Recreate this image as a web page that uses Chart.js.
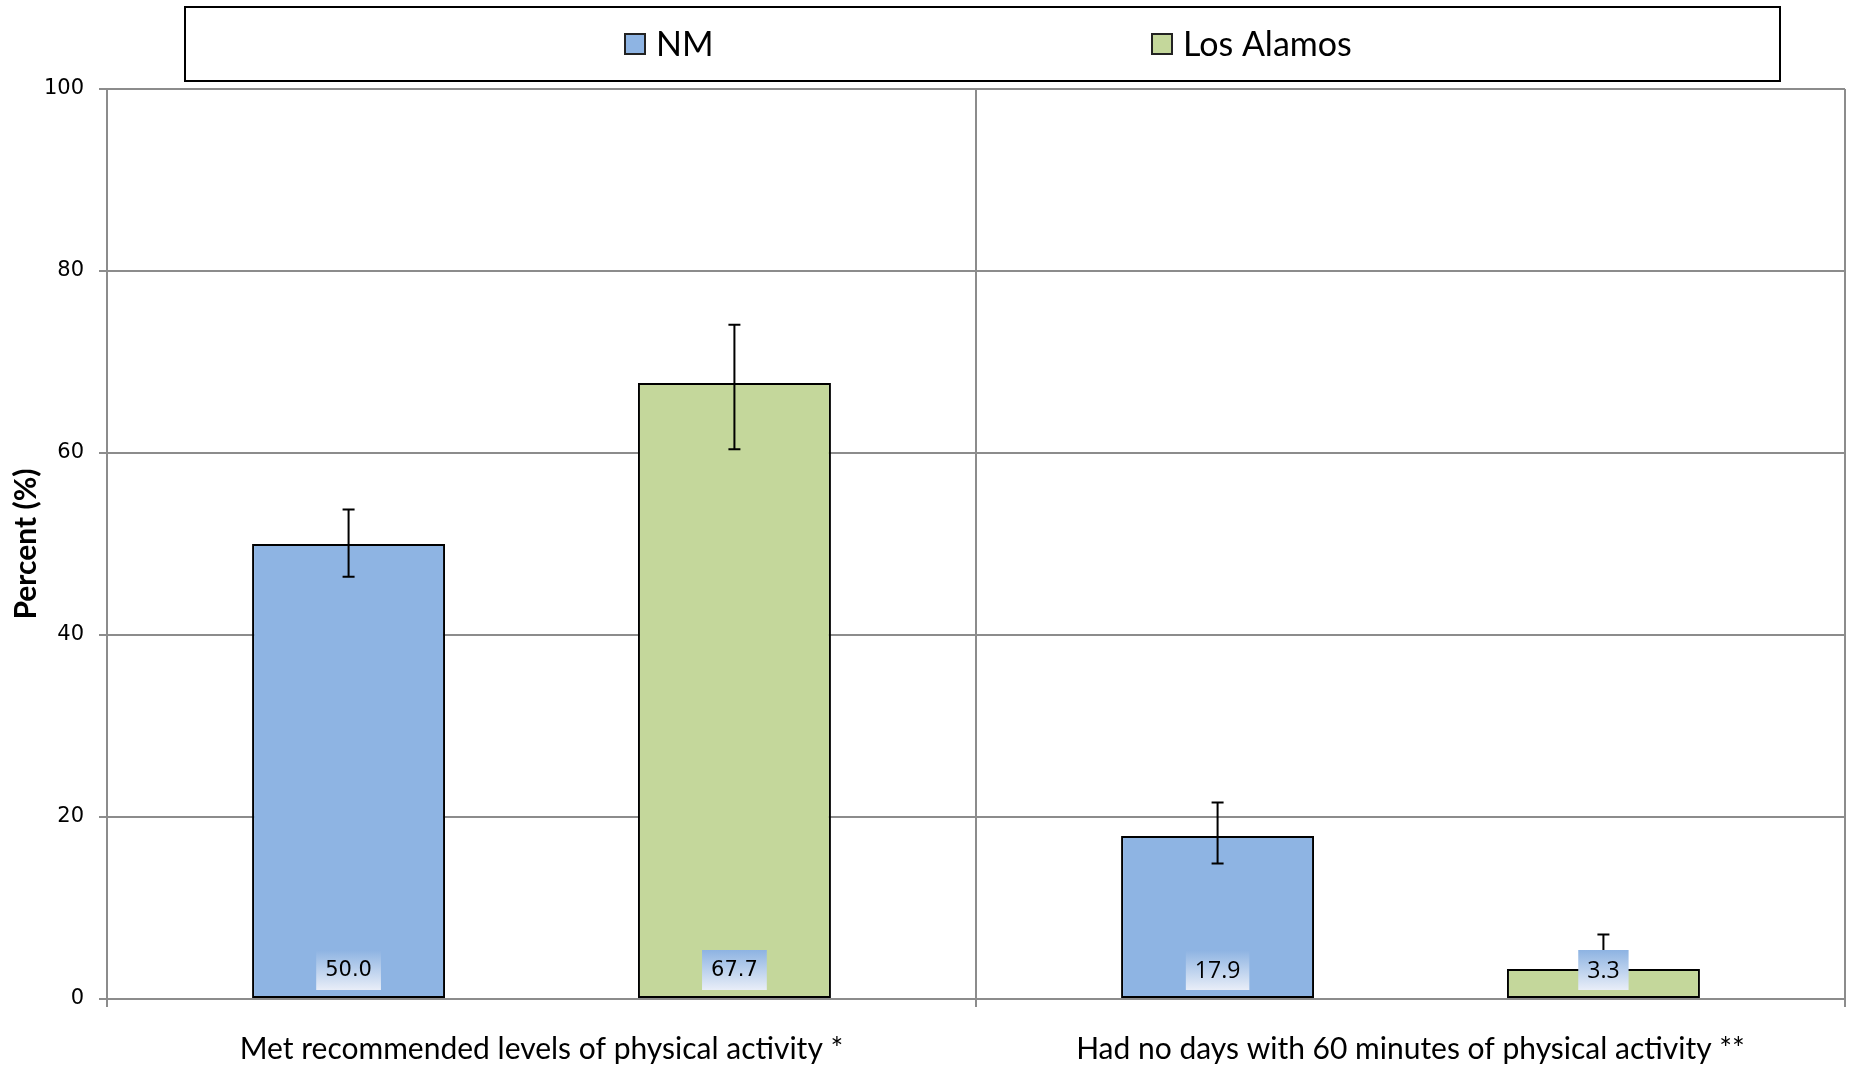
<!DOCTYPE html>
<html><head><meta charset="utf-8">
<script src="https://cdn.jsdelivr.net/npm/chart.js@4"></script>
<style>html,body{margin:0;padding:0;background:#fff}canvas{display:block}</style>
</head><body>
<canvas id="c" width="1851" height="1068"></canvas>
<script>
const categories = ["Met recommended levels of physical activity *", "Had no days with 60 minutes of physical activity **"];
const seriesNames = ["NM", "Los Alamos"];
const nmValues = [50.0, 17.9];
const losAlamosValues = [67.7, 3.3];
const nmErrLow = [46.4, 14.9];
const nmErrHigh = [53.8, 21.6];
const laErrLow = [60.4, 1.5];
const laErrHigh = [74.1, 7.1];
const yTicks = [0, 20, 40, 60, 80, 100];
const yTitle = "Percent (%)";

const NM_COLOR = '#8eb4e3';
const LA_COLOR = '#c4d79b';
const GRID = '#8c8c8c';
const labelFonts = ['21px "DejaVu Sans"', '23px "Open Sans"'];

const legendPlugin = {
  id: 'boxLegend',
  afterDraw(chart) {
    const ctx = chart.ctx;
    ctx.save();
    ctx.strokeStyle = '#000'; ctx.lineWidth = 2;
    ctx.strokeRect(185, 7, 1595, 74);
    const xs = [625, 1152];
    ctx.font = '34px Lato';
    ctx.textBaseline = 'middle';
    chart.data.datasets.forEach((ds, i) => {
      const x = xs[i], cy = 44;
      ctx.fillStyle = ds.backgroundColor;
      ctx.fillRect(x, cy - 10, 20, 20);
      ctx.strokeStyle = '#222'; ctx.lineWidth = 2;
      ctx.strokeRect(x, cy - 10, 20, 20);
      ctx.fillStyle = '#000';
      ctx.fillText(ds.label, x + 31, cy + 1);
    });
    ctx.restore();
  }
};

const errorAndLabels = {
  id: 'errorAndLabels',
  afterDatasetsDraw(chart) {
    const ctx = chart.ctx, y = chart.scales.y;
    ctx.save();
    chart.data.datasets.forEach((ds, i) => {
      const meta = chart.getDatasetMeta(i);
      meta.data.forEach((el, j) => {
        const top = y.getPixelForValue(ds.errHigh[j]);
        const bot = y.getPixelForValue(ds.errLow[j]);
        ctx.strokeStyle = '#000'; ctx.lineWidth = 2;
        ctx.beginPath();
        ctx.moveTo(el.x, top); ctx.lineTo(el.x, bot);
        ctx.moveTo(el.x - 6, top); ctx.lineTo(el.x + 6, top);
        ctx.moveTo(el.x - 6, bot); ctx.lineTo(el.x + 6, bot);
        ctx.stroke();
      });
    });
    chart.data.datasets.forEach((ds, i) => {
      const meta = chart.getDatasetMeta(i);
      meta.data.forEach((el, j) => {
        const txt = ds.data[j].toFixed(1);
        ctx.font = labelFonts[j];
        const w = ctx.measureText(txt).width + 18;
        const base = y.getPixelForValue(0);
        const bBot = base - 9, bTop = bBot - 40;
        const g = ctx.createLinearGradient(0, bTop, 0, bBot);
        g.addColorStop(0, '#8db3e2');
        g.addColorStop(1, '#e9eef8');
        ctx.fillStyle = g;
        ctx.fillRect(el.x - w / 2, bTop, w, 40);
        ctx.fillStyle = '#000';
        ctx.textAlign = 'center'; ctx.textBaseline = 'middle';
        ctx.fillText(txt, el.x, (bTop + bBot) / 2 + 1);
      });
    });
    ctx.restore();
  }
};

new Chart(document.getElementById('c'), {
  type: 'bar',
  data: {
    labels: categories,
    datasets: [
      { label: seriesNames[0], data: nmValues, errLow: nmErrLow, errHigh: nmErrHigh,
        backgroundColor: NM_COLOR, borderColor: '#000', borderWidth: 2, borderSkipped: false,
        categoryPercentage: 0.888, barPercentage: 0.5 },
      { label: seriesNames[1], data: losAlamosValues, errLow: laErrLow, errHigh: laErrHigh,
        backgroundColor: LA_COLOR, borderColor: '#000', borderWidth: 2, borderSkipped: false,
        categoryPercentage: 0.888, barPercentage: 0.5 }
    ]
  },
  options: {
    responsive: false,
    animation: false,
    layout: { padding: { top: 89, right: 6, left: 0, bottom: 0 } },
    plugins: { legend: { display: false }, tooltip: { enabled: false } },
    scales: {
      x: {
        grid: { color: GRID, lineWidth: 2, tickLength: 8, offset: true },
        border: { color: GRID, width: 2 },
        ticks: { color: '#000', font: { family: 'Lato', size: 30 }, padding: 24, maxRotation: 0 },
        afterFit(s) { s.height = 69; }
      },
      y: {
        min: 0, max: 100,
        afterBuildTicks(s) { s.ticks = yTicks.map(v => ({ value: v })); },
        grid: { color: GRID, lineWidth: 2, tickLength: 8 },
        border: { color: GRID, width: 2 },
        ticks: { color: '#000', font: { family: 'DejaVu Sans', size: 21 }, padding: 15 },
        title: { display: true, text: yTitle, color: '#000', font: { family: 'Lato', size: 30, weight: 'bold' }, padding: { top: 8, bottom: 0 } },
        afterFit(s) { s.width = 107; }
      }
    }
  },
  plugins: [legendPlugin, errorAndLabels]
});
</script>
</body></html>
